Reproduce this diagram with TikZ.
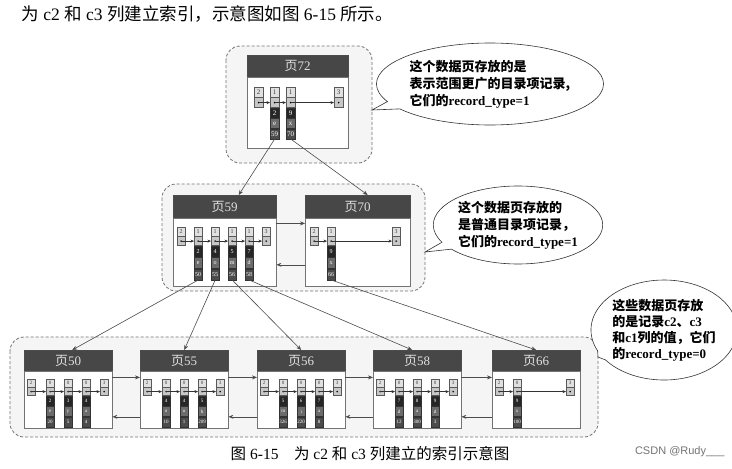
\documentclass[tikz,border=0pt]{standalone}
\usepackage{fontspec}
\setmainfont{Liberation Serif}
\setsansfont{Liberation Sans}
\newfontfamily\cjk{Noto Sans CJK SC}
\usetikzlibrary{positioning,shapes.callouts,arrows.meta}

% cell sizes, changed per level
\def\cw{8pt}\def\ch{8pt}\def\dh{10pt}\def\cs{6}

\tikzset{
  cell/.style={draw=black!65, line width=0.4pt, inner sep=0pt, minimum width=\cw, minimum height=\ch, font=\fontsize{\cs}{\cs}\selectfont},
  typecell/.style={cell, fill=black!12, text=black!75},
  ptrcell/.style={cell, fill=black!22, path picture={\fill[black] (path picture bounding box.center) circle (0.9pt);}},
  keycell/.style={cell, draw=black!80, fill=black!85, text=white, minimum height=\dh},
  valcell/.style={keycell, fill=black!58},
  pnocell/.style={keycell, fill=black!70},
  pagehead/.style={draw=black!70, fill=black!72, text=black!12, inner sep=0pt, font=\fontsize{13}{13}\selectfont, anchor=north west},
  pagebody/.style={draw=black!55, fill=white, inner sep=0pt},
  levelbox/.style={draw=black!55, densely dashed, fill=black!4, rounded corners=14pt, line width=0.8pt},
  chain/.style={draw=black!80, line width=0.5pt, -{Stealth[length=3.5pt,width=3pt]}},
  link/.style={draw=black!70, line width=0.6pt, -{Stealth[length=5pt,width=4pt]}},
  note/.style={ellipse callout, draw=black!80, fill=white, line width=0.6pt, callout pointer arc=12, align=left, inner sep=0pt, font=\cjk\bfseries\fontsize{13}{17}\selectfont},
}

% record without data (infimum / supremum)
\def\infrec(#1,#2)#3#4{%
  \node[typecell, anchor=north west] (#3-t) at (#1,#2) {#4};
  \node[ptrcell, below=0pt of #3-t] (#3-p) {};}
% record with c2, c3 and page / c1
\def\datarec(#1,#2)#3#4#5#6#7{%
  \infrec(#1,#2){#3}{#4}
  \node[keycell, below=0pt of #3-p] (#3-k) {#5};
  \node[valcell, below=0pt of #3-k] (#3-v) {#6};
  \node[pnocell, below=0pt of #3-v] (#3-n) {#7};}
% page: top left, name, number, width, header height, body height
\def\datapage(#1,#2)#3#4#5#6#7{%
  \node[pagehead, minimum width=#5pt, minimum height=#6pt] (#3h) at (#1,#2) {{\cjk 页}#4};
  \node[pagebody, minimum width=#5pt, minimum height=#7pt, below=0pt of #3h] (#3b) {};}

\begin{document}
\begin{tikzpicture}[x=1pt, y=-1pt]
  %%%%% START %%%%%
  \useasboundingbox (0,0) rectangle (732,469);
  \fill[white] (0,0) rectangle (732,469);

  \node[anchor=west, font=\fontsize{17.5}{17.5}\selectfont] (title) at (18,14) {{\cjk 为} c2 {\cjk 和} c3 {\cjk 列建立索引，示意图如图} 6-15 {\cjk 所示。}};

  % level 1
  \def\cw{9pt}\def\ch{10pt}\def\dh{10pt}\def\cs{7}
  \draw[levelbox] (226,46) rectangle (372,163);
  \datapage(247,55){p72}{72}{101}{22}{71}
  \infrec(254,87){r72i}{2}
  \datarec(270,87){r72a}{1}{2}{e}{59}
  \datarec(286,87){r72b}{1}{9}{x}{70}
  \infrec(334,87){r72s}{3}
  \foreach \a/\b in {r72i/r72a,r72a/r72b,r72b/r72s}
    \draw[chain] (\a-p.center) -- (\b-p.west);

  % level 2
  \def\cw{8pt}\def\ch{9pt}\def\dh{11pt}\def\cs{6}
  \draw[levelbox] (162,184) rectangle (425,291);
  \datapage(173,195){p59}{59}{103}{23}{68}
  \datapage(305,195){p70}{70}{105}{23}{68}
  \infrec(177,227){r59i}{2}
  \datarec(194,227){r59a}{1}{2}{e}{50}
  \datarec(211,227){r59b}{1}{4}{o}{55}
  \datarec(228,227){r59c}{1}{5}{m}{56}
  \datarec(245,227){r59d}{1}{7}{d}{58}
  \infrec(262,227){r59s}{3}
  \infrec(310,227){r70i}{2}
  \datarec(327,227){r70a}{1}{9}{x}{66}
  \infrec(392,227){r70s}{3}
  \foreach \a/\b in {r59i/r59a,r59a/r59b,r59b/r59c,r59c/r59d,r59d/r59s,r70i/r70a,r70a/r70s}
    \draw[chain] (\a-p.center) -- (\b-p.west);
  \draw[link] ([yshift=-5pt]p59b.north east) -- ([yshift=-5pt]p70b.north west);
  \draw[link] ([yshift=22pt]p70b.south west) -- ([yshift=22pt]p59b.south east);

  % level 3
  \def\cw{8pt}\def\ch{8pt}\def\dh{10pt}\def\cs{5}
  \draw[levelbox] (10,337) rectangle (598,437);
  \datapage(24,350){p50}{50}{88}{21}{57}
  \datapage(140,350){p55}{55}{88}{21}{57}
  \datapage(257,350){p56}{56}{88}{21}{57}
  \datapage(373,350){p58}{58}{88}{21}{57}
  \datapage(492,350){p66}{66}{88}{21}{57}

  \infrec(27,379){r50i}{2}
  \datarec(46,379){r50a}{0}{2}{e}{20}
  \datarec(64,379){r50b}{0}{3}{y}{5}
  \datarec(82,379){r50c}{0}{4}{a}{4}
  \infrec(100,379){r50s}{3}

  \infrec(143,379){r55i}{2}
  \datarec(162,379){r55a}{0}{4}{o}{10}
  \datarec(180,379){r55b}{0}{4}{u}{1}
  \datarec(198,379){r55c}{0}{5}{b}{209}
  \infrec(216,379){r55s}{3}

  \infrec(260,379){r56i}{2}
  \datarec(279,379){r56a}{0}{5}{m}{326}
  \datarec(297,379){r56b}{0}{6}{i}{220}
  \datarec(315,379){r56c}{0}{7}{a}{8}
  \infrec(333,379){r56s}{3}

  \infrec(376,379){r58i}{2}
  \datarec(395,379){r58a}{0}{7}{d}{12}
  \datarec(413,379){r58b}{0}{8}{a}{300}
  \datarec(431,379){r58c}{0}{9}{d}{3}
  \infrec(449,379){r58s}{3}

  \infrec(495,379){r66i}{2}
  \datarec(513,379){r66a}{0}{9}{x}{100}
  \infrec(566,379){r66s}{3}

  \foreach \a/\b in {r50i/r50a,r50a/r50b,r50b/r50c,r50c/r50s,
                     r55i/r55a,r55a/r55b,r55b/r55c,r55c/r55s,
                     r56i/r56a,r56a/r56b,r56b/r56c,r56c/r56s,
                     r58i/r58a,r58a/r58b,r58b/r58c,r58c/r58s,
                     r66i/r66a,r66a/r66s}
    \draw[chain] (\a-p.center) -- (\b-p.west);

  \foreach \l/\r in {p50/p55,p55/p56,p56/p58,p58/p66}{
    \draw[link] ([yshift=-6pt]\l b.north east) -- ([yshift=-6pt]\r b.north west);
    \draw[link] ([yshift=12pt]\r b.south west) -- ([yshift=12pt]\l b.south east);
  }

  % between levels
  \draw[link] (r72a-n.south) -- ([xshift=14pt]p59h.north);
  \draw[link] (r72b-n.south) -- ([xshift=10pt]p70h.north);
  \draw[link] (r59a-n.south) -- ([xshift=4pt]p50h.north);
  \draw[link] (r59b-n.south) -- (p55h.north);
  \draw[link] (r59c-n.south) -- (p56h.north);
  \draw[link] (r59d-n.south) -- ([xshift=-5pt]p58h.north);
  \draw[link] (r70a-n.south) -- (p66h.north);

  % notes
  \node[note, minimum width=198pt, minimum height=82pt, callout absolute pointer={(372,110)}] (n1) at (490,84)
    {这个数据页存放的是\\表示范围更广的目录项记录,\\它们的{\rmfamily record\_type=1}};
  \node[note, minimum width=167pt, minimum height=78pt, callout absolute pointer={(425,252)}] (n2) at (518,225)
    {这个数据页存放的\\是普通目录项记录，\\它们的{\rmfamily record\_type=1}};
  \node[note, minimum width=130pt, minimum height=100pt, font=\cjk\bfseries\fontsize{13}{16}\selectfont, callout absolute pointer={(598,357)}] (n3) at (664,330)
    {这些数据页存放\\的是记录{\rmfamily c2}、{\rmfamily c3}\\和{\rmfamily c1}列的值，它们\\的{\rmfamily record\_type=0}};

  \node[font=\fontsize{15.5}{15.5}\selectfont] (caption) at (370,454) {{\cjk 图} 6-15\quad{\cjk 为} c2 {\cjk 和} c3 {\cjk 列建立的索引示意图}};
  \node[anchor=east, font=\sffamily\fontsize{11}{11}\selectfont, text=black!55] (mark) at (728,452) {CSDN @Rudy\_\_\_};
  %%%%% END %%%%%
\end{tikzpicture}
\end{document}
